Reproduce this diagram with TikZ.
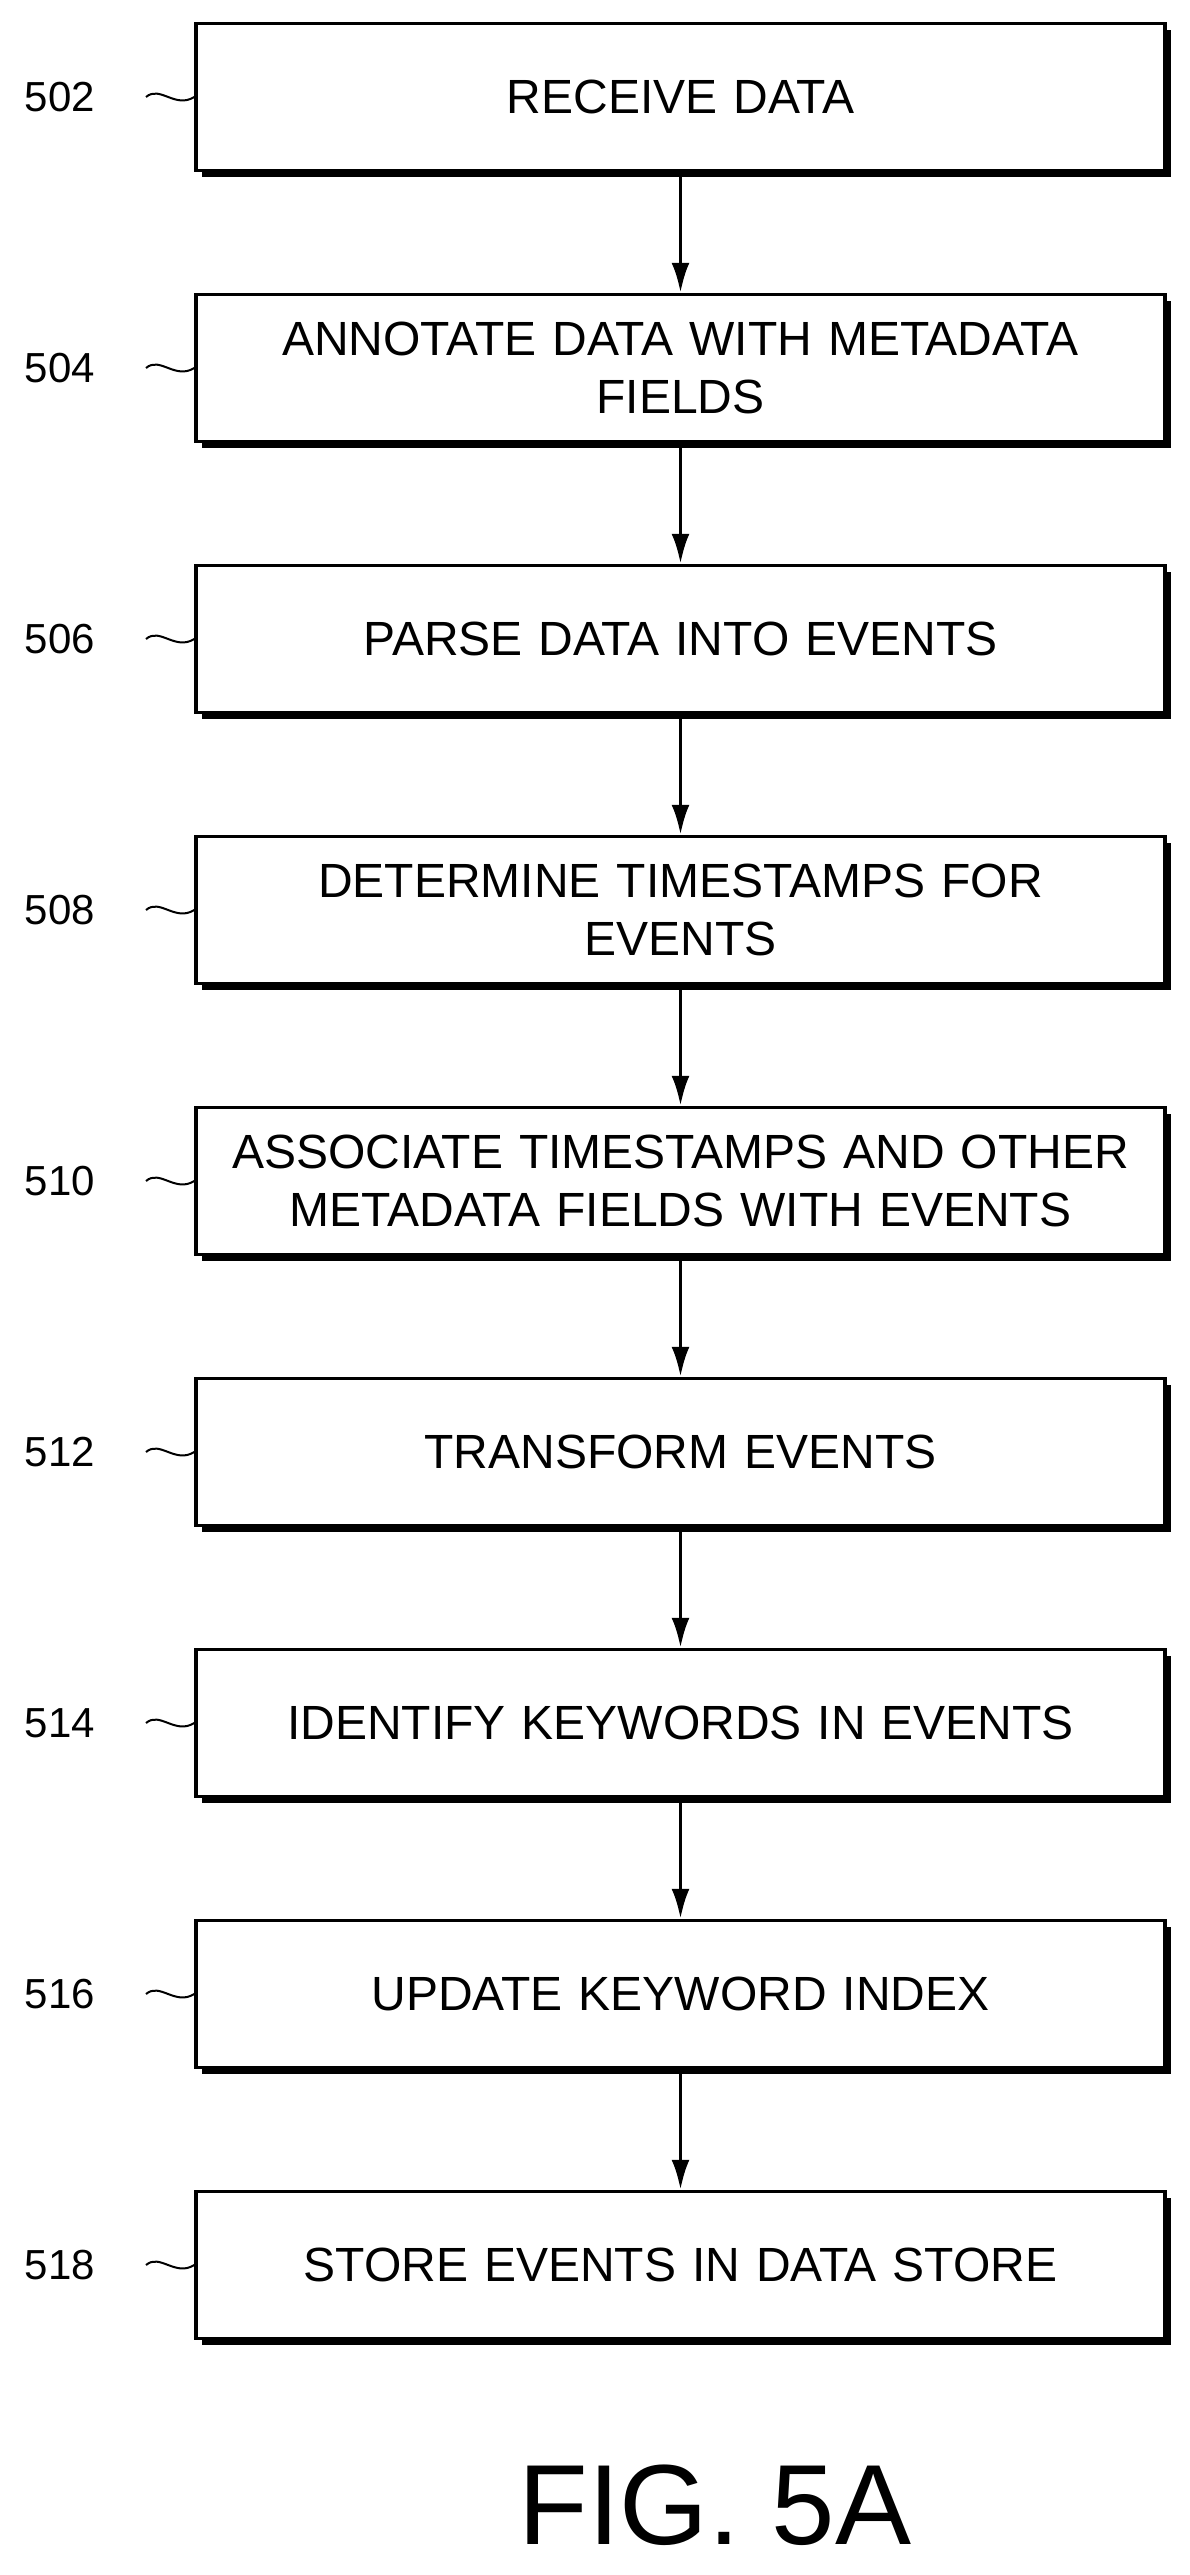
\documentclass[tikz,border=0pt]{standalone}
\usepackage{fontspec}
\setmainfont{Liberation Sans}
\usetikzlibrary{positioning,shadows,arrows.meta}

\begin{document}
\begin{tikzpicture}[
		x=1pt,y=1pt,
		stage/.style={
			draw,
			line width=3.5pt,
			fill=white,
			minimum width=969pt,
			minimum height=147pt,
			align=center,
			text width=950pt,
			inner sep=0pt,
			font=\fontsize{48}{58}\selectfont,
			drop shadow={shadow xshift=6pt,shadow yshift=-6pt,fill=black,opacity=1},
		},
		ref/.style={font=\fontsize{42}{48}\selectfont},
		>=latex
		]
		\useasboundingbox (0,0) rectangle (1190,-2575);
		% Draw the stages
		\foreach \i/\num/\txt in {
			1/502/RECEIVE DATA,
			2/504/{ANNOTATE DATA WITH METADATA\\FIELDS},
			3/506/PARSE DATA INTO EVENTS,
			4/508/{DETERMINE TIMESTAMPS FOR\\EVENTS},
			5/510/{ASSOCIATE TIMESTAMPS AND OTHER\\METADATA FIELDS WITH EVENTS},
			6/512/TRANSFORM EVENTS,
			7/514/IDENTIFY KEYWORDS IN EVENTS,
			8/516/UPDATE KEYWORD INDEX,
			9/518/STORE EVENTS IN DATA STORE} {
			\node [stage] (stage\i) at (680.5,-97-271*\i+271) {\txt};
			\node [ref] (ref\i) at (60,-97-271*\i+271) {\num};
			\coordinate (tl\i) at (146,-97-271*\i+271);
			\draw[line width=2pt] (tl\i) .. controls (160,-85-271*\i+271) and (175,-109-271*\i+271) .. (stage\i.west);
		}
		% Draw the arrows
		\foreach \i [count=\j from 2] in {1,...,8} {
			\draw[-{Latex[length=30pt,width=18pt]},line width=3.5pt] (stage\i) -- (stage\j);
		}
		% Figure label
		\node[font=\fontsize{114}{125}\selectfont] (fig) at (715,-2505) {FIG. 5A};
	\end{tikzpicture}
\end{document}
